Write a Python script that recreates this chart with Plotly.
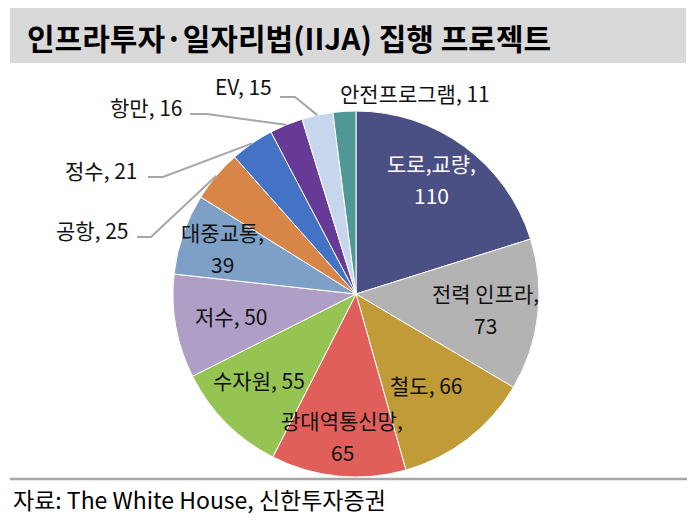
import numpy as np
import plotly.graph_objects as go

# ---- data ----
labels = ["도로,교량", "전력 인프라", "철도", "광대역통신망", "수자원", "저수",
          "대중교통", "공항", "정수", "항만", "EV", "안전프로그램"]
values = [110, 73, 66, 65, 55, 50, 39, 25, 21, 16, 15, 11]
title_text = "인프라투자·일자리법(IIJA) 집행 프로젝트"
source_text = "자료: The White House, 신한투자증권"

# ---- style ----
colors = ["#4A5083", "#B3B3B3", "#C09B37", "#E05F5B", "#96C453", "#AF9FC7",
          "#7EA0C7", "#D78647", "#4472C4", "#673A98", "#C6D6EC", "#4F9897"]
FONT = "Noto Sans CJK KR"
W, H = 695, 521
cx, cy, R = 356, 294, 183
LBL = 21

def px(x):
    return x / W

def py(y):
    return 1 - y / H

total = float(sum(values))
cum_mid = np.cumsum(values) - np.array(values) / 2.0
mid_ang = cum_mid / total * 2 * np.pi  # clockwise from 12 o'clock

def polar(a, r):
    return cx + r * np.sin(a), cy - r * np.cos(a)

fig = go.Figure()
fig.add_trace(go.Pie(
    labels=labels, values=values, sort=False, direction="clockwise", rotation=0,
    marker=dict(colors=colors, line=dict(color="white", width=1)),
    textinfo="none", hoverinfo="label+value", showlegend=False,
    domain=dict(x=[px(cx - R), px(cx + R)], y=[py(cy + R), py(cy - R)]),
))

annotations = []
shapes = []

# inside labels: index -> (radius factor, angle nudge (rad), two-line?, color)
inside = {0: (0.75, -0.05, True, "white"), 1: (0.71, 0.0, True, "#111"),
          2: (0.63, 0.0, False, "#111"), 3: (0.78, 0.0, True, "#111"),
          4: (0.71, 0.06, False, "#111"), 5: (0.69, 0.0, False, "#111"),
          6: (0.77, 0.0, True, "#111")}
for i, (rf, da, two, col) in inside.items():
    x, y = polar(mid_ang[i] + da, rf * R)
    if two:
        lines = [f"{labels[i]},", f"{values[i]}"]
        offs = [-16, 16]
    else:
        lines = [f"{labels[i]}, {values[i]}"]
        offs = [0]
    for t, o in zip(lines, offs):
        annotations.append(dict(x=px(x), y=py(y + o), xref="paper", yref="paper",
                                text=t, showarrow=False, xanchor="center", yanchor="middle",
                                font=dict(family=FONT, size=LBL, color=col)))

# outside labels: index -> (text right x, text center y, line y, line start x, elbow x)
outside = {7: (131, 230, 237, 137, 151),
           8: (140, 170, 177, 148, 163),
           9: (185, 107, 114, 190, 207),
           10: (274, 86, 97, 280, 295)}
for i, (tx, ty, ly, lx0, lx1) in outside.items():
    annotations.append(dict(x=px(tx), y=py(ty), xref="paper", yref="paper",
                            text=f"{labels[i]}, {values[i]}", showarrow=False,
                            xanchor="right", yanchor="middle",
                            font=dict(family=FONT, size=LBL, color="#111")))
    ex, ey = polar(mid_ang[i], R)
    path = f"M {px(lx0)} {py(ly)} L {px(lx1)} {py(ly)} L {px(ex)} {py(ey)}"
    shapes.append(dict(type="path", xref="paper", yref="paper", path=path,
                       line=dict(color="#A6A6A6", width=2)))

# top small label without leader
annotations.append(dict(x=px(415), y=py(93), xref="paper", yref="paper",
                        text=f"{labels[11]}, {values[11]}", showarrow=False,
                        xanchor="center", yanchor="middle",
                        font=dict(family=FONT, size=LBL, color="#111")))

# title bar
shapes.append(dict(type="rect", xref="paper", yref="paper", x0=px(10), x1=px(686),
                   y0=py(63), y1=py(8), fillcolor="#D9D9D9", line=dict(width=0), layer="below"))
annotations.append(dict(x=px(25), y=py(37), xref="paper", yref="paper",
                        text=f"<b>{title_text}</b>", showarrow=False,
                        xanchor="left", yanchor="middle",
                        font=dict(family=FONT, size=30, color="#000")))
# footer
shapes.append(dict(type="line", xref="paper", yref="paper", x0=px(10), x1=px(687),
                   y0=py(479), y1=py(479), line=dict(color="#A6A6A6", width=2.5)))
annotations.append(dict(x=px(11), y=py(499), xref="paper", yref="paper",
                        text=source_text, showarrow=False,
                        xanchor="left", yanchor="middle",
                        font=dict(family=FONT, size=23, color="#000")))

fig.update_layout(width=W, height=H, margin=dict(l=0, r=0, t=0, b=0),
                  paper_bgcolor="white", plot_bgcolor="white",
                  annotations=annotations, shapes=shapes)
fig.write_html("out.html")
